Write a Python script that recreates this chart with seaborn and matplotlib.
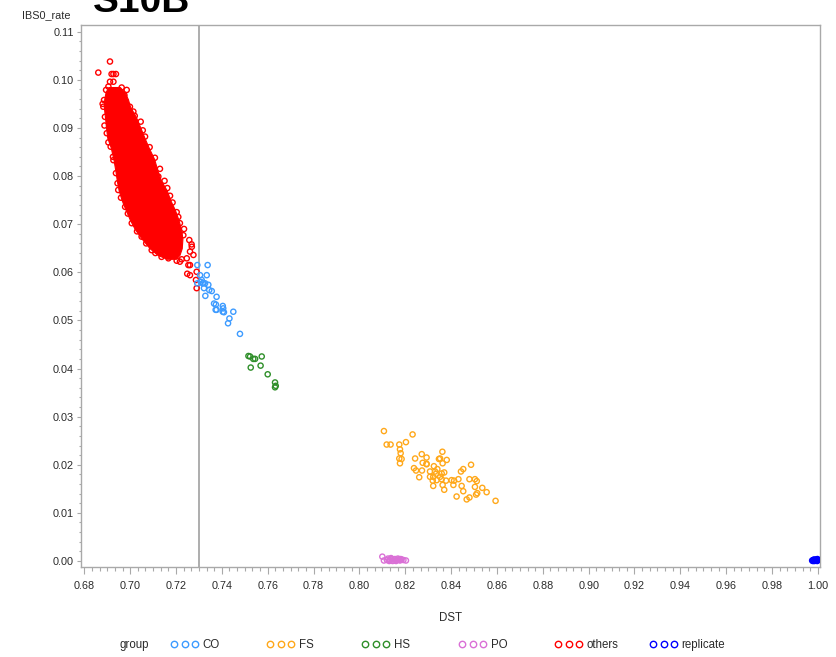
import numpy as np
import pandas as pd
import matplotlib
matplotlib.use("Agg")
import matplotlib.pyplot as plt
from matplotlib.lines import Line2D
from matplotlib.ticker import FixedLocator, AutoMinorLocator, FormatStrFormatter
import seaborn as sns

# ---------------- data ----------------
groups = ["CO", "FS", "HS", "PO", "others", "replicate"]
group_colors = ["#3D9BFF", "#FFA81A", "#2F8F2A", "#DA70D6", "#FF0000", "#0000FF"]

co_x = [0.7293, 0.7338, 0.7305, 0.7334, 0.7293, 0.7308, 0.7319, 0.7327, 0.7341, 0.7322,
        0.7345, 0.7356, 0.7328, 0.7377, 0.7366, 0.7374, 0.7377, 0.7373, 0.7404, 0.7406,
        0.7404, 0.7409, 0.7450, 0.7433, 0.7427, 0.7479, 0.7312, 0.7316]
co_y = [0.0615, 0.0615, 0.0594, 0.0594, 0.0577, 0.0580, 0.0578, 0.0577, 0.0574, 0.0567,
        0.0563, 0.0561, 0.0551, 0.0549, 0.0535, 0.0533, 0.0522, 0.0522, 0.0530, 0.0525,
        0.0518, 0.0517, 0.0518, 0.0504, 0.0494, 0.0472, 0.0584, 0.0577]

fs_x = [0.8107, 0.8232, 0.8119, 0.8136, 0.8203, 0.8174, 0.8177, 0.8180, 0.8174, 0.8184,
        0.8177, 0.8243, 0.8272, 0.8293, 0.8276, 0.8293, 0.8238, 0.8247, 0.8273, 0.8261,
        0.8308, 0.8325, 0.8330, 0.8322, 0.8340, 0.8347, 0.8352, 0.8362, 0.8363, 0.8370,
        0.8381, 0.8359, 0.8337, 0.8320, 0.8322, 0.8352, 0.8378, 0.8363, 0.8370, 0.8402,
        0.8413, 0.8410, 0.8432, 0.8443, 0.8453, 0.8487, 0.8480, 0.8446, 0.8453, 0.8424,
        0.8480, 0.8468, 0.8504, 0.8512, 0.8504, 0.8514, 0.8509, 0.8536, 0.8555, 0.8594,
        0.8359, 0.8334, 0.8308, 0.8293]
fs_y = [0.0270, 0.0263, 0.0242, 0.0242, 0.0247, 0.0242, 0.0232, 0.0224, 0.0213, 0.0212,
        0.0203, 0.0213, 0.0222, 0.0215, 0.0204, 0.0202, 0.0193, 0.0188, 0.0188, 0.0174,
        0.0186, 0.0197, 0.0186, 0.0175, 0.0191, 0.0212, 0.0213, 0.0227, 0.0203, 0.0184,
        0.0210, 0.0170, 0.0168, 0.0167, 0.0156, 0.0175, 0.0167, 0.0158, 0.0148, 0.0168,
        0.0167, 0.0158, 0.0170, 0.0186, 0.0191, 0.0200, 0.0170, 0.0156, 0.0145, 0.0134,
        0.0132, 0.0128, 0.0170, 0.0166, 0.0154, 0.0141, 0.0138, 0.0152, 0.0143, 0.0125,
        0.0182, 0.0181, 0.0175, 0.0201]

hs_x = [0.7516, 0.7523, 0.7537, 0.7545, 0.7574, 0.7526, 0.7569, 0.7600, 0.7632, 0.7635, 0.7632]
hs_y = [0.0426, 0.0425, 0.0420, 0.0420, 0.0425, 0.0402, 0.0406, 0.0388, 0.0371, 0.0364, 0.0361]

po_x = [0.8100, 0.8107, 0.8125, 0.8133, 0.8141, 0.8148, 0.8155, 0.8163, 0.8170, 0.8177,
        0.8184, 0.8192, 0.8203, 0.8130, 0.8145, 0.8160, 0.8175, 0.8120, 0.8138, 0.8168, 0.8180]
po_y = [0.0009, 0.0001, 0.0005, 0.0002, 0.0004, 0.0001, 0.0004, 0.0002, 0.0003, 0.0001,
        0.0003, 0.0002, 0.0001, 0.0000, 0.0000, 0.0000, 0.0003, 0.0002, 0.0006, 0.0005, 0.0004]

others_x = [0.6861, 0.6912, 0.6919, 0.6927, 0.6938, 0.6912, 0.6927, 0.6905, 0.6895, 0.6963,
            0.6985, 0.6886, 0.6883, 0.6999, 0.6890, 0.7014, 0.7046, 0.6898, 0.7065, 0.6915,
            0.7108, 0.6927, 0.7123, 0.6938, 0.6948, 0.7162, 0.7174, 0.6978, 0.7203, 0.7217,
            0.7007, 0.7050, 0.7232, 0.7094, 0.7137, 0.7167, 0.7203, 0.7225,
            0.7258, 0.7268, 0.7261, 0.7276, 0.7247, 0.7217, 0.7261, 0.7290, 0.7249, 0.7261,
            0.7287, 0.7290, 0.7254, 0.7269,
            0.6975, 0.7020, 0.7055, 0.7085, 0.7130, 0.7150, 0.7185, 0.7210, 0.7235,
            0.6880, 0.6888, 0.6905, 0.6925, 0.6945, 0.6960, 0.6990, 0.7030, 0.7070, 0.7110]
others_y = [0.1015, 0.1038, 0.1012, 0.1012, 0.1012, 0.0996, 0.0996, 0.0986, 0.0979, 0.0984,
            0.0979, 0.0958, 0.0944, 0.0944, 0.0923, 0.0934, 0.0913, 0.0889, 0.0882, 0.0861,
            0.0838, 0.0833, 0.0799, 0.0806, 0.0771, 0.0775, 0.0759, 0.0736, 0.0725, 0.0702,
            0.0702, 0.0674, 0.0677, 0.0646, 0.0632, 0.0629, 0.0624, 0.0627,
            0.0667, 0.0658, 0.0643, 0.0636, 0.0629, 0.0622, 0.0615, 0.0601, 0.0597, 0.0594,
            0.0584, 0.0567, 0.0615, 0.0653,
            0.0968, 0.0925, 0.0895, 0.0860, 0.0815, 0.0790, 0.0745, 0.0715, 0.0690,
            0.0950, 0.0905, 0.0870, 0.0840, 0.0785, 0.0755, 0.0722, 0.0685, 0.0660, 0.0640]

# dense core of the "others" cloud (read as row extents from the picture)
blob_y = [0.0985, 0.0975, 0.0960, 0.0944, 0.0923, 0.0900, 0.0880, 0.0860, 0.0835, 0.0810,
          0.0790, 0.0770, 0.0750, 0.0730, 0.0710, 0.0690, 0.0670, 0.0650, 0.0636, 0.0628]
blob_left = [0.6905, 0.6893, 0.6887, 0.6885, 0.6890, 0.6895, 0.6900, 0.6915, 0.6927, 0.6936,
             0.6942, 0.6950, 0.6963, 0.6980, 0.6998, 0.7020, 0.7050, 0.7085, 0.7120, 0.7160]
blob_right = [0.6955, 0.6975, 0.6990, 0.7000, 0.7025, 0.7045, 0.7062, 0.7080, 0.7105, 0.7120,
              0.7135, 0.7160, 0.7175, 0.7195, 0.7210, 0.7222, 0.7228, 0.7225, 0.7215, 0.7200]

rep_x = [0.9975, 0.9980, 0.9985, 0.9990, 0.9995, 0.9999, 0.9978, 0.9988, 0.9993, 0.9997, 0.9983, 0.9998]
rep_y = [0.0001, 0.0002, 0.0000, 0.0003, 0.0001, 0.0002, 0.0000, 0.0001, 0.0002, 0.0000, 0.0003, 0.0004]

ref_line_x = 0.73
x_ticks = [0.68, 0.70, 0.72, 0.74, 0.76, 0.78, 0.80, 0.82, 0.84, 0.86, 0.88, 0.90,
           0.92, 0.94, 0.96, 0.98, 1.00]
y_ticks = [0.00, 0.01, 0.02, 0.03, 0.04, 0.05, 0.06, 0.07, 0.08, 0.09, 0.10, 0.11]

series = {
    "others": (others_x, others_y),
    "CO": (co_x, co_y),
    "FS": (fs_x, fs_y),
    "HS": (hs_x, hs_y),
    "PO": (po_x, po_y),
    "replicate": (rep_x, rep_y),
}
df = pd.concat([pd.DataFrame({"DST": xs, "IBS0_rate": ys, "group": g})
                for g, (xs, ys) in series.items()], ignore_index=True)
palette = dict(zip(groups, group_colors))

# ---------------- style ----------------
sns.set_style("ticks")
plt.rcParams["font.family"] = ["Liberation Sans", "DejaVu Sans"]
txt_col = "#2B2B2B"
axis_col = "#A9A9A9"

fig = plt.figure(figsize=(8.37, 6.57), dpi=100)
ax = fig.add_axes([81 / 837, 1 - 567 / 657, 739 / 837, 542 / 657])

ax.fill_betweenx(blob_y, blob_left, blob_right, color=palette["others"], lw=0.8, zorder=2)
sns.scatterplot(data=df, x="DST", y="IBS0_rate", hue="group", hue_order=groups,
                palette=palette, s=14, marker="o", linewidth=1.0, legend=False,
                ax=ax, zorder=3)
pc = ax.collections[-1]
pc.set_edgecolors(pc.get_facecolors())
pc.set_facecolors("none")

ax.axvline(ref_line_x, color="#A0A0A0", lw=1.2, zorder=1)

ax.set_xlim(0.67856, 1.00092)
ax.set_ylim(-0.00125, 0.11139)
ax.xaxis.set_major_locator(FixedLocator(x_ticks))
ax.yaxis.set_major_locator(FixedLocator(y_ticks))
ax.xaxis.set_minor_locator(AutoMinorLocator(6))
ax.yaxis.set_minor_locator(AutoMinorLocator(5))
ax.xaxis.set_major_formatter(FormatStrFormatter("%.2f"))
ax.yaxis.set_major_formatter(FormatStrFormatter("%.2f"))

for s in ax.spines.values():
    s.set_color(axis_col)
    s.set_linewidth(1.0)
ax.tick_params(axis="x", which="major", length=4.8, width=0.8, color=axis_col,
               labelsize=7.8, labelcolor=txt_col, pad=5.5)
ax.tick_params(axis="x", which="minor", length=3.0, width=0.8, color=axis_col)
ax.tick_params(axis="y", which="major", length=3.0, width=0.8, color=axis_col,
               labelsize=7.8, labelcolor=txt_col, pad=2.0)
ax.tick_params(axis="y", which="minor", length=1.8, width=0.8, color=axis_col)

ax.set_xlabel("DST", fontsize=8.3, color=txt_col)
ax.xaxis.set_label_coords(0.5, (567 - 618) / 542)
ax.xaxis.label.set_va("center")
ax.set_ylabel("IBS0_rate", fontsize=7.8, color=txt_col, rotation=0)
ax.yaxis.set_label_coords((22 - 81) / 739, (567 - 15) / 542)
ax.yaxis.label.set_ha("left")
ax.yaxis.label.set_va("center")

fig.text(93 / 837, 1 - 12 / 657, "S10B", fontsize=28, fontweight="bold",
         ha="left", va="baseline", color="black")

# legend row
fig.text(120 / 837, 1 - 645 / 657, "group", fontsize=8.3, color=txt_col, va="center")
legend_x = [171, 267, 362, 459, 555, 650]
for g, lx in zip(groups, legend_x):
    h = Line2D([], [], ls="none", marker="o", ms=4.6, mfc="none",
               mec=palette[g], mew=1.0)
    fig.legend(handles=[h], labels=[g], loc="center left",
               bbox_to_anchor=(lx / 837, 1 - 645 / 657), frameon=False,
               numpoints=3, handlelength=2.35, handletextpad=0.4,
               borderpad=0, borderaxespad=0, fontsize=8.3, labelcolor=txt_col)

fig.savefig("out.png", dpi=100)
